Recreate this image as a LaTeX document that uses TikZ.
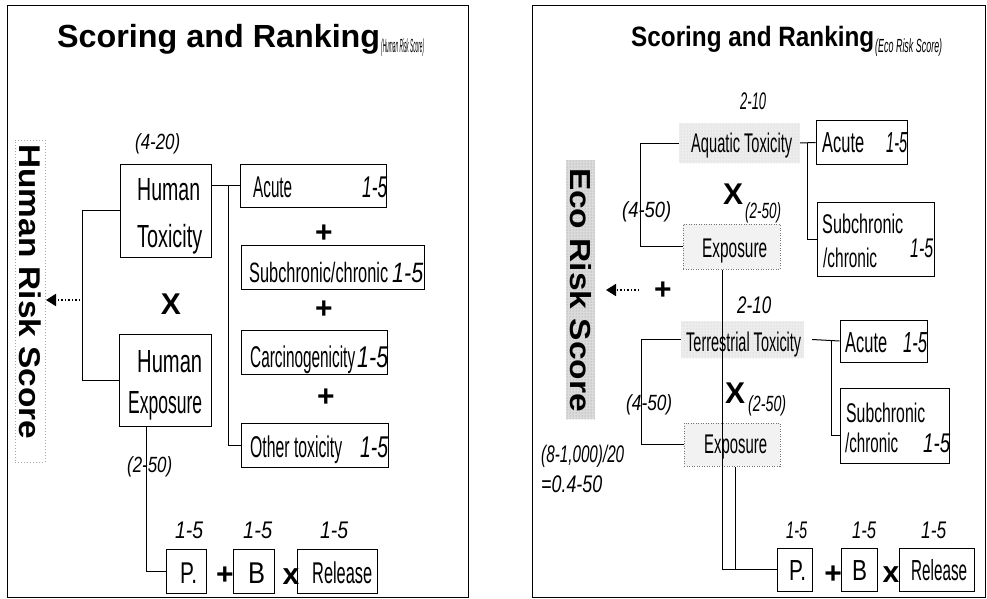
\documentclass[tikz,border=0pt]{standalone}
\usepackage{fontspec}
\setmainfont{Liberation Sans}
\usetikzlibrary{arrows.meta,fit,calc,patterns}
% squeeze a text horizontally to a given width (pt), at a given size (pt)
\newcommand{\sq}[3]{\resizebox{#1pt}{\height}{\fontsize{#2}{#2}\selectfont #3}}
\begin{document}
\begin{tikzpicture}[x=1pt,y=-1pt,
  txt/.style={inner sep=0pt, anchor=base west},
  sym/.style={inner sep=0pt, font=\fontsize{30}{30}\selectfont\bfseries},
  box/.style={draw, line width=1pt, inner sep=0pt},
  dbox/.style={draw=black!55, dash pattern=on 1pt off 1.5pt, line width=1pt, inner sep=0pt, fill=black!5},
  stip/.style={inner sep=0pt, fill=black!7, postaction={pattern=dots, pattern color=black!22}},
  conn/.style={line width=1pt},
  dotarrow/.style={line width=1.7pt, dash pattern=on 1.5pt off 2pt, -{Triangle[length=10pt,width=12pt]}}
]
\useasboundingbox (0,0) rectangle (987,599);
\fill[white] (0,0) rectangle (987,599);

% ---------------- panels ----------------
\node[box, fit={(7,6) (468,597)}] (panelL) {};
\node[box, fit={(532,6) (985,597)}] (panelR) {};

% ================= Human risk score =================
\node[txt] (titleL) at (57,48) {\sq{323}{32}{\bfseries Scoring and Ranking}};
\node[txt] (titleLi) at (381,53) {\sq{43}{19}{\itshape (Human Risk Score)}};

\node[draw=black!35, dash pattern=on 1pt off 2pt, line width=0.6pt, inner sep=0pt, fit={(15,140) (45,462)}] (hrsframe) {};
\node[rotate=-90, inner sep=0pt] (hrs) at (30,292) {\sq{295}{30}{\bfseries Human Risk Score}};

\node[txt] (r420) at (135,149) {\sq{45}{22}{\itshape (4-20)}};

\node[box, fit={(120,164) (211,257)}] (htox) {};
\node[txt] (htox1) at (137,200) {\sq{63}{32}{Human}};
\node[txt] (htox2) at (137,247) {\sq{65}{32}{Toxicity}};

\node[sym] (xL) at (171,304) {X};

\node[box, fit={(119,334) (211,426)}] (hexp) {};
\node[txt] (hexp1) at (137,372) {\sq{65}{32}{Human}};
\node[txt] (hexp2) at (128,413) {\sq{74}{32}{Exposure}};

\node[box, fit={(240,164) (386,207)}] (acL) {};
\node[txt] (acLt) at (253,197) {\sq{39}{30}{Acute}};
\node[txt] (acLn) at (362,197) {\sq{25}{30}{\itshape 1-5}};
\node[sym] (p1) at (324,234) {+};

\node[box, fit={(241,245) (424,289)}] (subL) {};
\node[txt] (subLt) at (249,282) {\sq{139}{28}{Subchronic/chronic}};
\node[txt] (subLn) at (392,282) {\sq{31}{28}{\itshape 1-5}};
\node[sym] (p2) at (324,310) {+};

\node[box, fit={(241,330) (387,374)}] (carL) {};
\node[txt] (carLt) at (250,367) {\sq{105}{30}{Carcinogenicity}};
\node[txt] (carLn) at (357,367) {\sq{31}{30}{\itshape 1-5}};
\node[sym] (p3) at (326,398) {+};

\node[box, fit={(241,423) (388,467)}] (othL) {};
\node[txt] (othLt) at (250,457) {\sq{92}{30}{Other toxicity}};
\node[txt] (othLn) at (360,457) {\sq{28}{30}{\itshape 1-5}};

\node[txt] (r250L) at (127,472) {\sq{45}{22}{\itshape (2-50)}};

\node[txt] (nPL) at (175,538) {\sq{28}{24}{\itshape 1-5}};
\node[txt] (nBL) at (243,538) {\sq{29}{24}{\itshape 1-5}};
\node[txt] (nRL) at (320,538) {\sq{28}{24}{\itshape 1-5}};

\node[box, fit={(166,549) (206,593)}] (pL) {};
\node[txt] (pLt) at (180,583) {\sq{17}{30}{P.}};
\node[sym] (p4) at (225,576) {+};
\node[box, fit={(233,549) (274,593)}] (bL) {};
\node[txt] (bLt) at (248,583) {\sq{17}{30}{B}};
\node[sym] (x4) at (291,577) {x};
\node[box, fit={(297,549) (377,593)}] (relL) {};
\node[txt] (relLt) at (312,583) {\sq{60}{30}{Release}};

% connectors
\coordinate (hArrowTail) at (80,300);
\coordinate (hArrowTip) at (46,300);
\draw[dotarrow] (hArrowTail) -- (hArrowTip);
\draw[conn] (htox.west) -- ++(-37,0) |- (hexp.west);
\draw[conn] (htox.east |- acL.west) -- (acL.west);
\coordinate (hTee) at ($(htox.east |- acL.west)+(17,0)$);
\draw[conn] (hTee) |- (othL.west);
\draw[conn] ($(hexp.south)+(-19,0)$) |- (pL.west);

% ================= Eco risk score =================
\node[txt] (titleR) at (631,47) {\sq{243}{28}{\bfseries Scoring and Ranking}};
\node[txt] (titleRi) at (875,53) {\sq{67}{19}{\itshape (Eco Risk Score)}};

\node[stip, fill=black!14, postaction={pattern=dots, pattern color=black!35}, fit={(566,160) (595,419)}] (ersbg) {};
\node[rotate=-90, inner sep=0pt] (ers) at (581,290) {\sq{244}{29}{\bfseries Eco Risk Score}};

\coordinate (eArrowTail) at (639,290);
\coordinate (eArrowTip) at (606,290);
\draw[dotarrow] (eArrowTail) -- (eArrowTip);
\node[sym] (pE) at (663,291) {+};

% aquatic branch
\node[txt] (r210a) at (740,110) {\sq{26}{24}{\itshape 2-10}};
\node[stip, fit={(679,123) (800,163)}] (aq) {};
\node[txt] (aqt) at (691,152) {\sq{101}{27}{Aquatic Toxicity}};

\node[box, fit={(816,121) (907,164)}] (ac1) {};
\node[txt] (ac1t) at (822,153) {\sq{42}{29}{Acute}};
\node[txt] (ac1n) at (886,153) {\sq{21}{29}{\itshape 1-5}};

\node[box, fit={(817,202) (934,276)}] (sub1) {};
\node[txt] (sub1a) at (822,233) {\sq{81}{27}{Subchronic}};
\node[txt] (sub1b) at (823,267) {\sq{54}{27}{/chronic}};
\node[txt] (sub1n) at (910,257) {\sq{23}{27}{\itshape 1-5}};

\node[txt] (r450a) at (622,217) {\sq{49}{22}{\itshape (4-50)}};
\node[sym] (xa) at (733,194) {X};
\node[txt] (r250a) at (745,218) {\sq{36}{22}{\itshape (2-50)}};

\node[dbox, fit={(683,224) (780,269)}] (exp1) {};
\node[txt] (exp1t) at (702,257) {\sq{65}{27}{Exposure}};

% terrestrial branch
\node[txt] (r210t) at (737,313) {\sq{34}{24}{\itshape 2-10}};
\node[stip, fit={(681,321) (804,358)}] (tr) {};
\node[txt] (trt) at (686,351) {\sq{115}{27}{Terrestrial Toxicity}};

\node[box, fit={(840,320) (927,362)}] (ac2) {};
\node[txt] (ac2t) at (845,352) {\sq{42}{29}{Acute}};
\node[txt] (ac2n) at (903,352) {\sq{24}{29}{\itshape 1-5}};

\node[box, fit={(840,388) (949,463)}] (sub2) {};
\node[txt] (sub2a) at (846,422) {\sq{79}{27}{Subchronic}};
\node[txt] (sub2b) at (845,452) {\sq{53}{27}{/chronic}};
\node[txt] (sub2n) at (923,452) {\sq{27}{27}{\itshape 1-5}};

\node[txt] (r450t) at (626,410) {\sq{46}{22}{\itshape (4-50)}};
\node[sym] (xt) at (735,393) {X};
\node[txt] (r250t) at (748,411) {\sq{38}{22}{\itshape (2-50)}};

\node[dbox, fit={(684,423) (780,466)}] (exp2) {};
\node[txt] (exp2t) at (704,453) {\sq{63}{27}{Exposure}};

\node[txt] (norm1) at (541,462) {\sq{83}{24}{\itshape (8-1,000)/20}};
\node[txt] (norm2) at (541,492) {\sq{61}{24}{\itshape =0.4-50}};

% release terms
\node[txt] (nPR) at (786,538) {\sq{21}{24}{\itshape 1-5}};
\node[txt] (nBR) at (852,538) {\sq{24}{24}{\itshape 1-5}};
\node[txt] (nRR) at (921,538) {\sq{25}{24}{\itshape 1-5}};

\node[box, fit={(777,548) (812,591)}] (pR) {};
\node[txt] (pRt) at (789,580) {\sq{17}{29}{P.}};
\node[sym] (p5) at (833,575) {+};
\node[box, fit={(841,548) (877,591)}] (bR) {};
\node[txt] (bRt) at (852,580) {\sq{15}{29}{B}};
\node[sym] (x5) at (891,575) {x};
\node[box, fit={(899,548) (974,591)}] (relR) {};
\node[txt] (relRt) at (911,580) {\sq{56}{29}{Release}};

% connectors
\draw[conn] (aq.west) -- ++(-38,0) |- (exp1.west);
\draw[conn] (aq.east) -- (ac1.west);
\coordinate (aTee) at ($(aq.east)!0.45!(ac1.west)$);
\draw[conn] (aTee) |- (sub1.west);

\draw[conn] (tr.west) -- ++(-39,0) |- (exp2.west);
\draw[conn] ([xshift=8pt]tr.east) -- (ac2.west);
\coordinate (tTee) at ($([xshift=8pt]tr.east)!0.7!(ac2.west)$);
\draw[conn] (tTee) |- ([yshift=-10pt]sub2.west);

\draw[conn] ([xshift=-9.5pt]exp1.south) |- (pR.west);
\draw[conn] ([xshift=3pt]exp2.south) -- ([xshift=3pt]exp2.south |- pR.west);
\end{tikzpicture}
\end{document}
